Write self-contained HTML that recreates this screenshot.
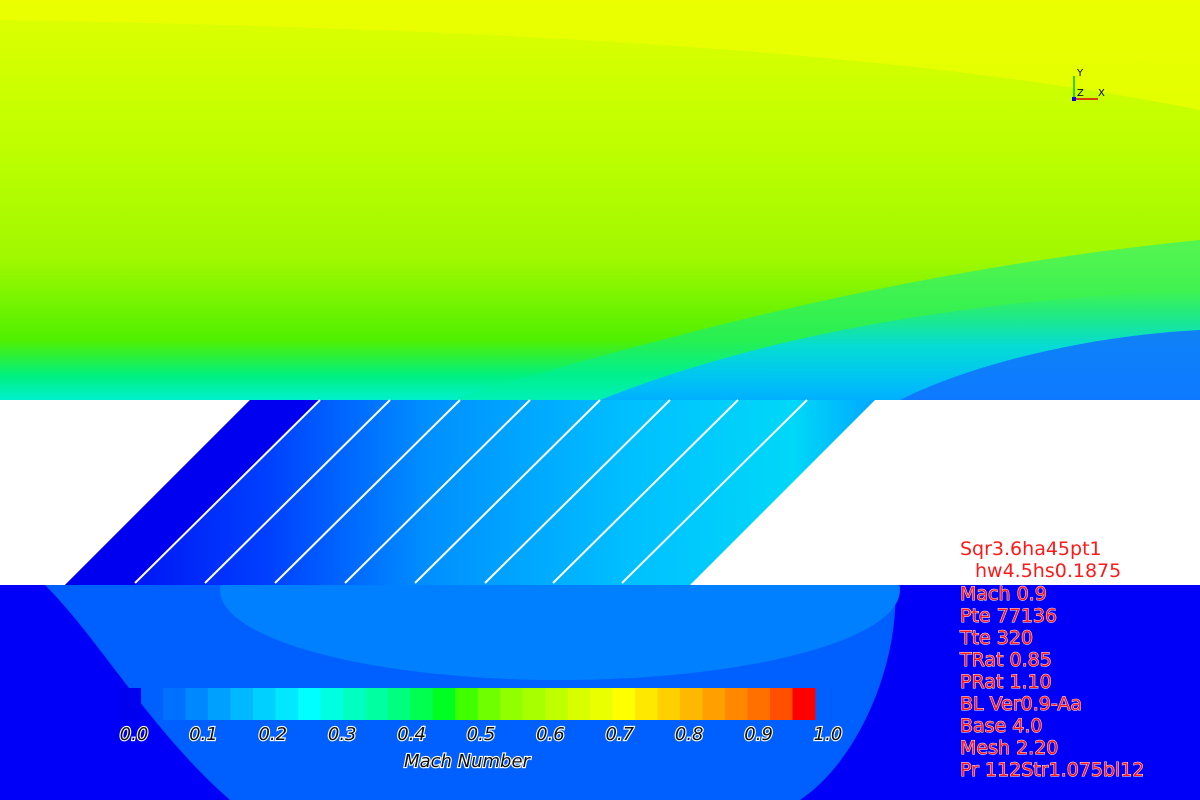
<!DOCTYPE html>
<html><head><meta charset="utf-8"><style>
html,body{margin:0;padding:0;width:1200px;height:800px;overflow:hidden;background:#fff}
svg{display:block}
.info{font-family:"DejaVu Sans","Liberation Sans",sans-serif;font-size:19px;fill:#ff1a1a;stroke:#ffffff;stroke-width:0.9;paint-order:stroke}
.tick{font-family:"DejaVu Sans","Liberation Sans",sans-serif;font-style:italic;font-size:18px;fill:#111;stroke:#fff;stroke-width:2.2;paint-order:stroke}
</style></head><body>
<svg id="chart" width="1200" height="800" viewBox="0 0 1200 800">
<defs>
 <linearGradient id="gTop" x1="0" y1="0" x2="0" y2="1">
  <stop offset="0" stop-color="#e0ff00"/>
  <stop offset="0.35" stop-color="#c0ff00"/>
  <stop offset="0.65" stop-color="#a0f800"/>
  <stop offset="0.85" stop-color="#50f000"/>
  <stop offset="0.94" stop-color="#00f080"/>
  <stop offset="1" stop-color="#00f0d0"/>
 </linearGradient>
 <linearGradient id="gRight" x1="0" y1="0" x2="0" y2="1">
  <stop offset="0" stop-color="#00e0d0" stop-opacity="0"/>
  <stop offset="0.5" stop-color="#00d8f0" stop-opacity="0.8"/>
  <stop offset="1" stop-color="#00b0ff"/>
 </linearGradient>
 <linearGradient id="gDuct" x1="0" y1="0" x2="1" y2="0">
  <stop offset="0" stop-color="#0000f0"/>
  <stop offset="0.25" stop-color="#0040ff"/>
  <stop offset="0.45" stop-color="#0090ff"/>
  <stop offset="0.7" stop-color="#00c0ff"/>
  <stop offset="0.9" stop-color="#00d8f8"/>
  <stop offset="1" stop-color="#00a8ff"/>
 </linearGradient>
 <clipPath id="plen"><rect x="0" y="585" width="1200" height="215"/></clipPath>
</defs>
<rect x="0" y="0" width="1200" height="400" fill="url(#gTop)"/>
<path d="M0 0 H1200 V110 C950 60 600 30 0 20 Z" fill="#f0ff00" opacity="0.7"/>
<path d="M450 400 C650 340 900 270 1200 240 V400 Z" fill="#00f0a0" opacity="0.5"/>
<path d="M600 400 C750 340 950 300 1200 290 V400 Z" fill="url(#gRight)"/>
<path d="M900 400 C980 360 1100 335 1200 330 V400 Z" fill="#1070ff" opacity="0.85"/>
<rect x="0" y="400" width="1200" height="185" fill="#ffffff"/>
<polygon points="250,400 875,400 690,585 65,585" fill="url(#gDuct)"/>
<polygon points="250,400 320,400 135,585 65,585" fill="#0000f0"/>
<rect x="0" y="585" width="1200" height="215" fill="#0000f8"/>
<g clip-path="url(#plen)">
<path d="M45 585 L895 585 C900 660 860 760 800 800 L230 800 C150 730 100 640 45 585 Z" fill="#0060ff"/>
<ellipse cx="560" cy="590" rx="340" ry="90" fill="#0080ff"/>
</g>
<g id="slots"></g>
<g id="cbar"></g>
<text x="467" y="767" text-anchor="middle" class="tick">Mach Number</text>
<g>
 <text class="info" x="960" y="555">Sqr3.6ha45pt1</text>
 <text class="info" x="975" y="577">hw4.5hs0.1875</text>
 <text class="info" x="960" y="600">Mach 0.9</text>
 <text class="info" x="960" y="622">Pte 77136</text>
 <text class="info" x="960" y="644">Tte 320</text>
 <text class="info" x="960" y="666">TRat 0.85</text>
 <text class="info" x="960" y="688">PRat 1.10</text>
 <text class="info" x="960" y="710">BL Ver0.9-Aa</text>
 <text class="info" x="960" y="732">Base 4.0</text>
 <text class="info" x="960" y="754">Mesh 2.20</text>
 <text class="info" x="960" y="776">Pr 112Str1.075bl12</text>
</g>
<g font-family="DejaVu Sans,sans-serif" font-size="10">
 <line x1="1074" y1="99" x2="1074" y2="76" stroke="#00c000" stroke-width="1.5"/>
 <line x1="1074" y1="99" x2="1098" y2="99" stroke="#e00000" stroke-width="1.5"/>
 <rect x="1072" y="97" width="4" height="4" fill="#0000ff"/>
 <text x="1077" y="76">Y</text><text x="1077" y="96">Z</text><text x="1098" y="96">X</text>
</g>
</svg>
<script>
const slotBottoms=[135,205,275,345,415,485,553,622];
const cbColors=["#0070ff","#0088ff","#00a0ff","#00b8ff","#00d0ff","#00e8ff","#00ffff","#00ffe0","#00ffc0","#00ffa0","#00ff80","#00ff50","#00ff20","#40ff00","#70ff00","#90ff00","#a8ff00","#c0ff00","#d8ff00","#eaff00","#ffff00","#ffe800","#ffd000","#ffb800","#ffa000","#ff8800","#ff7000","#ff5000","#ff0000"];
const cbTicks=["0.0","0.1","0.2","0.3","0.4","0.5","0.6","0.7","0.8","0.9","1.0"];
const NS="http://www.w3.org/2000/svg";
const sg=document.getElementById('slots');
slotBottoms.forEach(b=>{
 const l=document.createElementNS(NS,'line');
 l.setAttribute('x1',b);l.setAttribute('y1',583);l.setAttribute('x2',b+185);l.setAttribute('y2',400);
 l.setAttribute('stroke','#fff');l.setAttribute('stroke-width','2');
 
 
 sg.appendChild(l);
});
const cb=document.getElementById('cbar');
const x0=163,x1=815,y=688,h=32;
const d=document.createElementNS(NS,'rect');
d.setAttribute('x',120);d.setAttribute('y',y);d.setAttribute('width',21);d.setAttribute('height',h);d.setAttribute('fill','#0000f0');


cb.appendChild(d);
const w=(x1-x0)/cbColors.length;
cbColors.forEach((c,i)=>{
 const r=document.createElementNS(NS,'rect');
 r.setAttribute('x',x0+i*w);r.setAttribute('y',y);r.setAttribute('width',w+0.5);r.setAttribute('height',h);r.setAttribute('fill',c);
 
 
 cb.appendChild(r);
});
const tx=v=>134+v*(828-134);
cbTicks.forEach(t=>{
 const e=document.createElementNS(NS,'text');
 e.setAttribute('x',tx(parseFloat(t)));e.setAttribute('y',740);e.setAttribute('text-anchor','middle');e.setAttribute('class','tick');
 e.textContent=t;
 
 
 cb.appendChild(e);
});
</script>
</body></html>
